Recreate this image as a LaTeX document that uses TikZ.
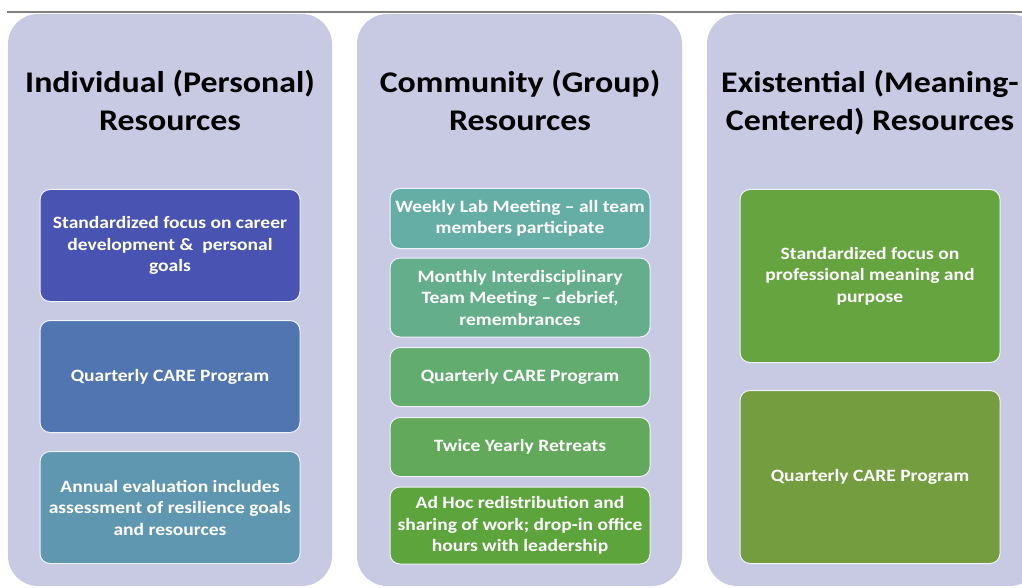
\documentclass[tikz,border=0pt]{standalone}
\usepackage{fontspec}
\setmainfont{Carlito}[FakeStretch=1.13]

\definecolor{lavanda}{HTML}{C8CAE4}
\definecolor{bluA}{HTML}{4953B2}
\definecolor{bluB}{HTML}{5075B1}
\definecolor{bluC}{HTML}{5F96B0}
\definecolor{verA}{HTML}{64AEA6}
\definecolor{verB}{HTML}{65AE8B}
\definecolor{verC}{HTML}{63AC70}
\definecolor{verD}{HTML}{62A95B}
\definecolor{verE}{HTML}{5DA43D}
\definecolor{verF}{HTML}{66A43F}
\definecolor{verG}{HTML}{739D3E}

\tikzset{
  colonna/.style={fill=lavanda, rounded corners=30pt},
  titolo/.style={align=center, font=\fontsize{30}{38}\selectfont\bfseries, text=black},
  voce/.style={draw=white!75!lavanda, line width=1pt, rounded corners=10pt,
    align=center, text=white, font=\fontsize{17.3}{21.5}\selectfont\bfseries,
    minimum width=260pt, inner sep=0pt},
}

\begin{document}
\begin{tikzpicture}[x=1pt,y=-1pt]
  \useasboundingbox (0,0) rectangle (1022,588);
  \clip (0,0) rectangle (1022,588);

  %linea in alto
  \draw[gray, line width=1.5pt](7,12)--(1022,12);

  %colonne di sfondo
  \fill[colonna](8,14)rectangle(332,586);
  \fill[colonna](357,14)rectangle(682,586);
  \fill[colonna](707,14)rectangle(1040,586);

  %titoli
  \node[titolo] (tit1) at (170,100) {Individual (Personal)\\Resources};
  \node[titolo] (tit2) at (520,100) {Community (Group)\\Resources};
  \node[titolo] (tit3) at (870,103) {Existential (Meaning-\\Centered) Resources};

  %prima colonna
  \node[voce, fill=bluA, minimum height=112pt] (ind1) at (170,245.5)
    {Standardized focus on career\\development \&\ \ personal\\goals};
  \node[voce, fill=bluB, minimum height=112pt] (ind2) at (170,376.5)
    {Quarterly CARE Program};
  \node[voce, fill=bluC, minimum height=112pt] (ind3) at (170,507.5)
    {Annual evaluation includes\\assessment of resilience goals\\and resources};

  %seconda colonna
  \node[voce, fill=verA, minimum height=60pt] (com1) at (520,218.5)
    {Weekly Lab Meeting -- all team\\members participate};
  \node[voce, fill=verB, minimum height=79pt] (com2) at (520,297.5)
    {Monthly Interdisciplinary\\Team Meeting -- debrief,\\remembrances};
  \node[voce, fill=verC, minimum height=59pt] (com3) at (520,377)
    {Quarterly CARE Program};
  \node[voce, fill=verD, minimum height=59pt] (com4) at (520,447)
    {Twice Yearly Retreats};
  \node[voce, fill=verE, minimum height=77pt] (com5) at (520,525.5)
    {Ad Hoc redistribution and\\sharing of work; drop-in office\\hours with leadership};

  %terza colonna
  \node[voce, fill=verF, minimum height=173pt] (esi1) at (870,276)
    {Standardized focus on\\professional meaning and\\purpose};
  \node[voce, fill=verG, minimum height=173pt] (esi2) at (870,477)
    {Quarterly CARE Program};
\end{tikzpicture}
\end{document}
